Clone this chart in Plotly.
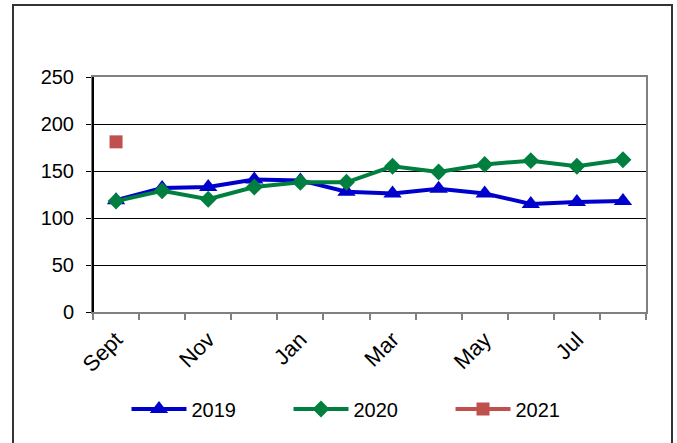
import plotly.graph_objects as go

months = ["Sept", "Oct", "Nov", "Dec", "Jan", "Feb", "Mar", "Apr", "May", "Jun", "Jul", "Aug"]
tick_text = ["Sept", "", "Nov", "", "Jan", "", "Mar", "", "May", "", "Jul", ""]
y2019 = [119, 132, 133, 141, 140, 128, 126, 131, 126, 115, 117, 118]
y2020 = [118, 129, 120, 133, 138, 138, 155, 149, 157, 161, 155, 162]
y2021 = [181, None, None, None, None, None, None, None, None, None, None, None]

W, H = 677, 443
L, R, T, B = 93, 677 - 646, 77, 443 - 312
pw, ph = W - L - R, H - T - B

fig = go.Figure()
fig.add_trace(go.Scatter(x=months, y=y2019, name="2019", mode="lines+markers",
                         line=dict(color="#0000CC", width=4),
                         marker=dict(symbol="triangle-up", size=16, color="#0000CC")))
fig.add_trace(go.Scatter(x=months, y=y2020, name="2020", mode="lines+markers",
                         line=dict(color="#007F3F", width=4),
                         marker=dict(symbol="diamond", size=13, color="#007F3F")))
fig.add_trace(go.Scatter(x=months, y=y2021, name="2021", mode="lines+markers",
                         line=dict(color="#C0504D", width=4),
                         marker=dict(symbol="square", size=13, color="#C0504D")))

font = dict(family="Liberation Sans, Arial, sans-serif", size=20, color="black")

fig.update_layout(
    width=W, height=H,
    margin=dict(l=L, r=R, t=T, b=B, autoexpand=False),
    paper_bgcolor="white", plot_bgcolor="white",
    font=font,
    showlegend=True,
    legend=dict(orientation="h", x=0.5, xanchor="center", y=(312 - 409) / ph, yanchor="middle",
                itemwidth=55, font=font, entrywidth=92, traceorder="normal"),
    xaxis=dict(type="category", range=[-0.5, 11.5], tickmode="array", tickvals=months,
               ticktext=tick_text, tickson="boundaries", ticks="outside", ticklen=6,
               tickcolor="#808080", tickwidth=1.5, tickangle=-45, automargin=False,
               tickfont=dict(family="Liberation Sans, Arial, sans-serif", size=22, color="black"),
               ticklabelstandoff=4,
               showline=True, linecolor="#808080", linewidth=2, mirror=True,
               showgrid=False, zeroline=False, fixedrange=True),
    yaxis=dict(range=[0, 250], tickvals=[0, 50, 100, 150, 200, 250], ticks="outside",
               ticklen=5, tickcolor="black", showline=True, linecolor="#808080",
               linewidth=2, mirror=True, showgrid=True, gridcolor="black", gridwidth=1,
               zeroline=False, ticklabelstandoff=8, fixedrange=True, automargin=False),
    shapes=[
        dict(type="line", xref="paper", yref="paper", x0=0, x1=0, y0=0, y1=1,
             line=dict(color="black", width=2)),
        dict(type="rect", xref="paper", yref="paper",
             x0=(13 - L) / pw, x1=(672 - L) / pw, y0=(312 - 460) / ph, y1=(312 - 5) / ph,
             line=dict(color="#333333", width=2), layer="below"),
    ],
)

fig.write_html("out.html", config={"displayModeBar": False},
               post_script="document.body.style.margin='0';document.body.style.overflow='hidden';")
